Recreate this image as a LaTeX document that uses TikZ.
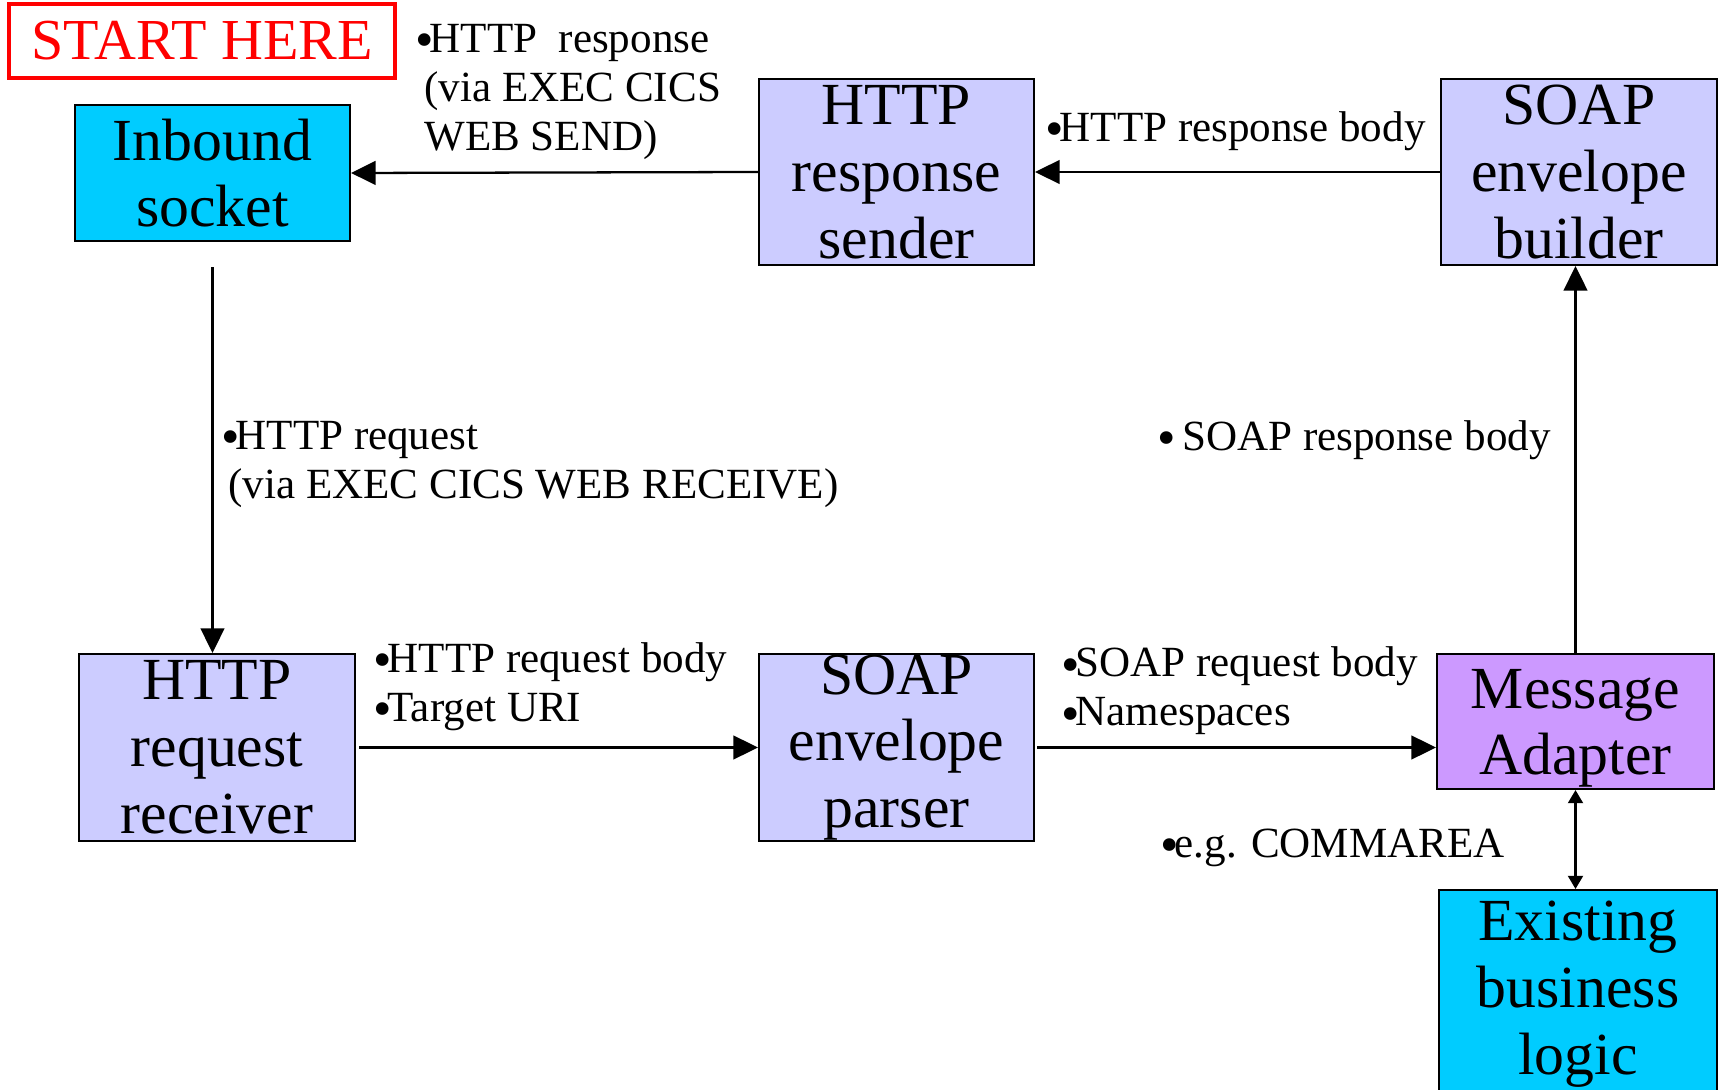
\documentclass[tikz,border=0pt]{standalone}
\usepackage{fontspec}
\setmainfont{Liberation Serif}
\usetikzlibrary{arrows.meta}
\definecolor{sockcyan}{HTML}{00CCFF}
\definecolor{lav}{HTML}{CCCCFF}
\definecolor{adaptpurple}{HTML}{CC99FF}
\newcommand{\bul}{\kern-1pt\raisebox{-3pt}{\fontsize{30}{30}\selectfont\textbullet}\kern-2.5pt}

\begin{document}
\begin{tikzpicture}[x=0.2mm,y=-0.2mm,
  box/.style={draw,line width=1.2pt,inner sep=0pt,minimum width=5.5cm,align=center,font=\fontsize{34}{38}\selectfont},
  note/.style={anchor=west,align=left,inner sep=0pt,font=\fontsize{24.5}{28}\selectfont},
  starthere/.style={draw=red,text=red,line width=2.5pt,minimum width=7.72cm,minimum height=1.48cm,font=\fontsize{33}{36}\selectfont},
  flow/.style={line width=1.3pt,-{Triangle[length=14pt,width=13.5pt]}},
  both/.style={line width=1.3pt,{Triangle[length=7.5pt,width=8.5pt]}-{Triangle[length=7.5pt,width=8.5pt]}}]
\useasboundingbox (0,0) rectangle (1719,1090);
\node[starthere] (start) at (202,41) {START HERE};
\node[box,fill=sockcyan,minimum height=2.72cm] (inbound) at (212.5,173) {Inbound\\socket};
\node[box,fill=lav,minimum height=3.72cm] (sender) at (896.5,172) {HTTP\\response\\sender};
\node[box,fill=lav,minimum height=3.72cm,minimum width=5.52cm] (builder) at (1579,172) {SOAP\\envelope\\builder};
\node[box,fill=lav,minimum height=3.74cm,minimum width=5.52cm] (receiver) at (217,747.5) {HTTP\\request\\receiver};
\node[box,fill=lav,minimum height=3.74cm] (parser) at (896.5,747.5) {SOAP\\envelope\\parser};
\node[box,fill=adaptpurple,minimum height=2.7cm,minimum width=5.54cm] (adapter) at (1575.5,721.5) {\rule{0pt}{30pt}Message\\Adapter};
\node[box,fill=sockcyan,anchor=north,minimum height=4.16cm,minimum width=5.56cm] (logic) at (1578,889) {Existing\\business\\logic};

\node[note] (respnote) at (417,92) {\bul HTTP\ \ response\\\hspace{4pt}(via EXEC CICS\\\hspace{4pt}WEB SEND)};
\node[note] (respbody) at (1047,131) {\bul HTTP response body};
\node[note] (reqnote) at (223,464.5) {\bul HTTP request\\\hspace{3pt}(via EXEC CICS WEB RECEIVE)};
\node[note] (soapresp) at (1159,440) {\bul\ SOAP response body};
\node[note] (reqbody) at (375,686.5) {\bul HTTP request body\\\bul Target URI};
\node[note] (soapbody) at (1063,691) {\bul SOAP request body\\\bul Namespaces};
\node[note] (commarea) at (1162,848) {\bul e.g. COMMAREA};

\draw[flow] (sender.west) -- (inbound.east);
\draw[flow] (builder.west) -- (sender.east);
\draw[flow] ([yshift=-0.5cm]inbound.south) -- (inbound.south |- receiver.north);
\draw[flow] ([xshift=0.06cm]receiver.east) -- (parser.west);
\draw[flow] ([xshift=0.04cm]parser.east) -- (parser.east -| adapter.west);
\draw[flow] (adapter.north) -- (adapter.north |- builder.south);
\draw[both] (adapter.south) -- (adapter.south |- logic.north);
\end{tikzpicture}
\end{document}
